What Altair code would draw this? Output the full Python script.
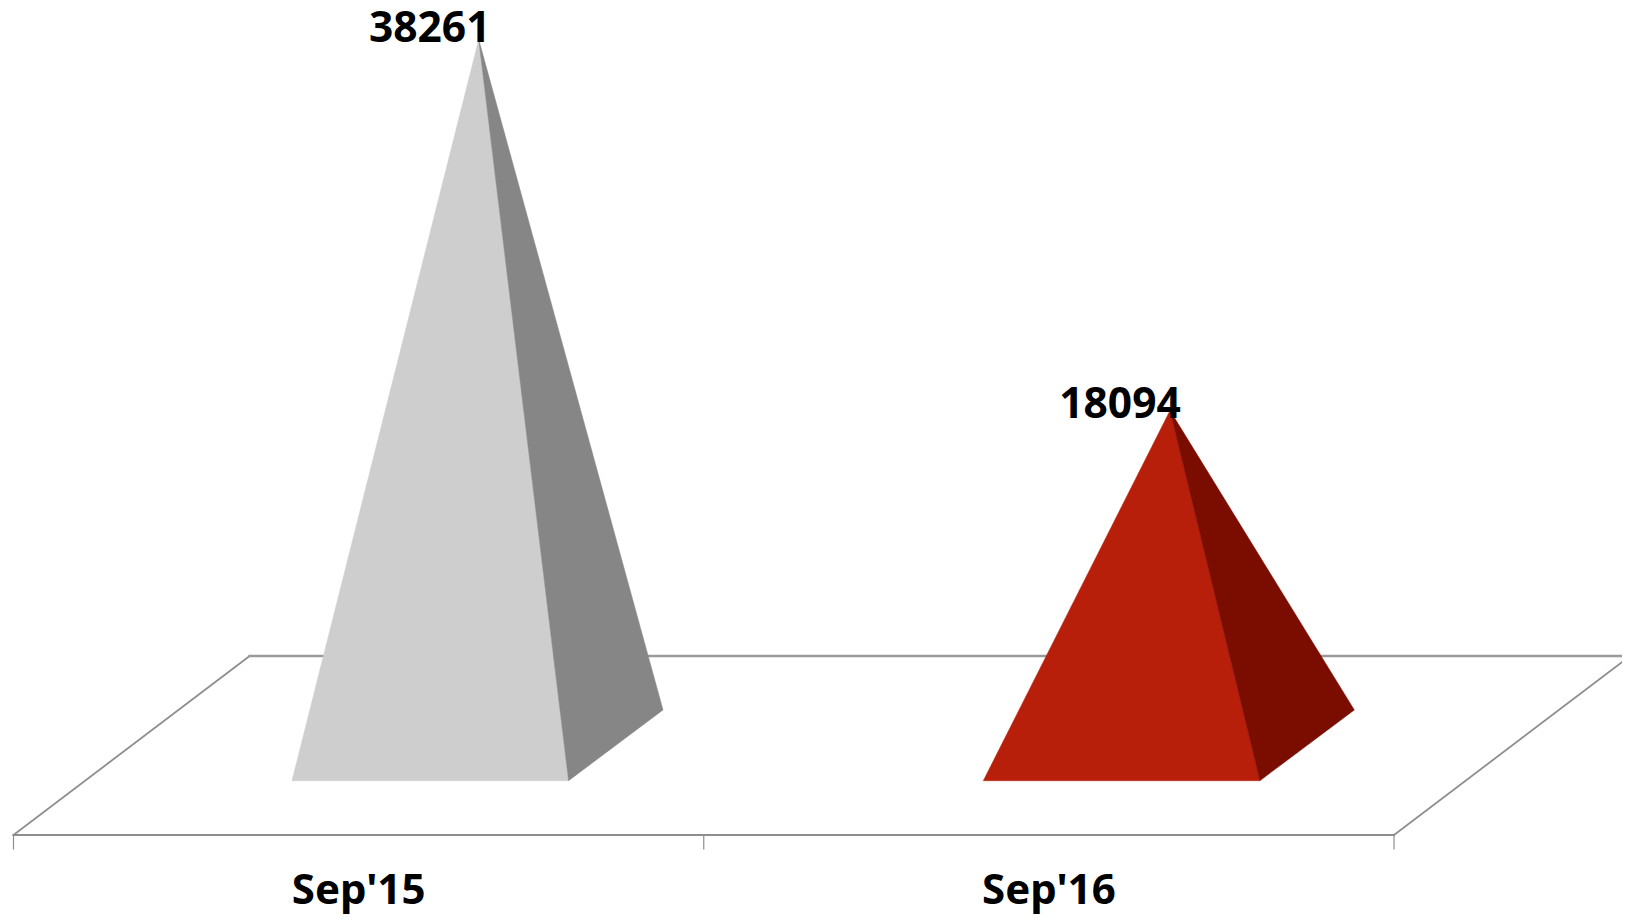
import altair as alt
import pandas as pd

categories = ["Sep'15", "Sep'16"]
values = [38261, 18094]
label_shift = [2, 7]
front_colors = ["#CECECE", "#B81F0B"]
side_colors = ["#868686", "#7B0D00"]

# Pseudo-3D geometry, expressed in axis units
X_DOMAIN = [-0.00797, 2.3303]
Y_DOMAIN = [-9321, 39973]
DEPTH_X_FLOOR = 0.342
FLOOR_FRONT, FLOOR_BACK = -4973, 4755
TICK_END = -5734
BASE_FRONT, BASE_BACK = -2022, 1826
LEFT, RIGHT, BACK, APEX = 0.4035, 0.8042, 0.9410, 0.6740
CAT_GAP = 1.0015
CAT_LABEL_Y = -8723

x_scale = alt.Scale(domain=X_DOMAIN, nice=False, zero=False)
y_scale = alt.Scale(domain=Y_DOMAIN, nice=False, zero=False)
X = alt.X("x:Q", scale=x_scale, axis=None)
Y = alt.Y("y:Q", scale=y_scale, axis=None)


def polyline(points, color, width):
    df = pd.DataFrame(points, columns=["x", "y"]).assign(o=range(len(points)))
    return alt.Chart(df).mark_line(color=color, strokeWidth=width, strokeCap="square").encode(
        x=X, y=Y, order="o:Q"
    )


def polygon(points, color):
    df = pd.DataFrame(points, columns=["x", "y"]).assign(o=range(len(points)))
    return alt.Chart(df).mark_line(
        fill=color, stroke=color, strokeWidth=0.5, strokeJoin="miter"
    ).encode(x=X, y=Y, order="o:Q")


layers = [
    polyline([(0, FLOOR_FRONT), (DEPTH_X_FLOOR, FLOOR_BACK)], "#8E8E8E", 1.8),
    polyline([(DEPTH_X_FLOOR, FLOOR_BACK), (2 + DEPTH_X_FLOOR, FLOOR_BACK)], "#9A9A9A", 2.4),
    polyline([(2, FLOOR_FRONT), (2 + DEPTH_X_FLOOR, FLOOR_BACK)], "#8E8E8E", 1.8),
    polyline([(0, FLOOR_FRONT), (2, FLOOR_FRONT)], "#8E8E8E", 2),
]
for t in range(3):
    layers.append(polyline([(t, FLOOR_FRONT), (t, TICK_END)], "#8E8E8E", 1.2))

for i, v in enumerate(values):
    c = i * CAT_GAP
    layers.append(polygon(
        [(c + LEFT, BASE_FRONT), (c + RIGHT, BASE_FRONT), (c + APEX, v), (c + LEFT, BASE_FRONT)],
        front_colors[i],
    ))
    layers.append(polygon(
        [(c + RIGHT, BASE_FRONT), (c + BACK, BASE_BACK), (c + APEX, v), (c + RIGHT, BASE_FRONT)],
        side_colors[i],
    ))

value_df = pd.DataFrame({
    "x": [i + 0.603 for i in range(2)],
    "y": values,
    "shift": label_shift,
    "label": [str(v) for v in values],
})
text_style = dict(font="Noto Sans", fontWeight="bold", fontSize=42, color="#000000",
                  align="center", baseline="alphabetic")
layers.append(alt.Chart(value_df).transform_calculate(
    yy="datum.y - datum.shift / 0.0184"
).mark_text(**{**text_style, "fontSize": 42.5}).encode(
    x=X, y=alt.Y("yy:Q", scale=y_scale, axis=None), text="label:N"
))

cat_df = pd.DataFrame({
    "x": [i + 0.5 for i in range(2)],
    "y": [CAT_LABEL_Y] * 2,
    "label": categories,
})
layers.append(alt.Chart(cat_df).mark_text(**text_style).encode(x=X, y=Y, text="label:N"))

chart = alt.layer(*layers).properties(
    width=1614, height=907, padding=0,
    autosize=alt.AutoSizeParams(type="none"),
    background="#FFFFFF",
).configure_view(stroke=None)

chart.save("out.html", embed_options={"renderer": "svg", "actions": False})
